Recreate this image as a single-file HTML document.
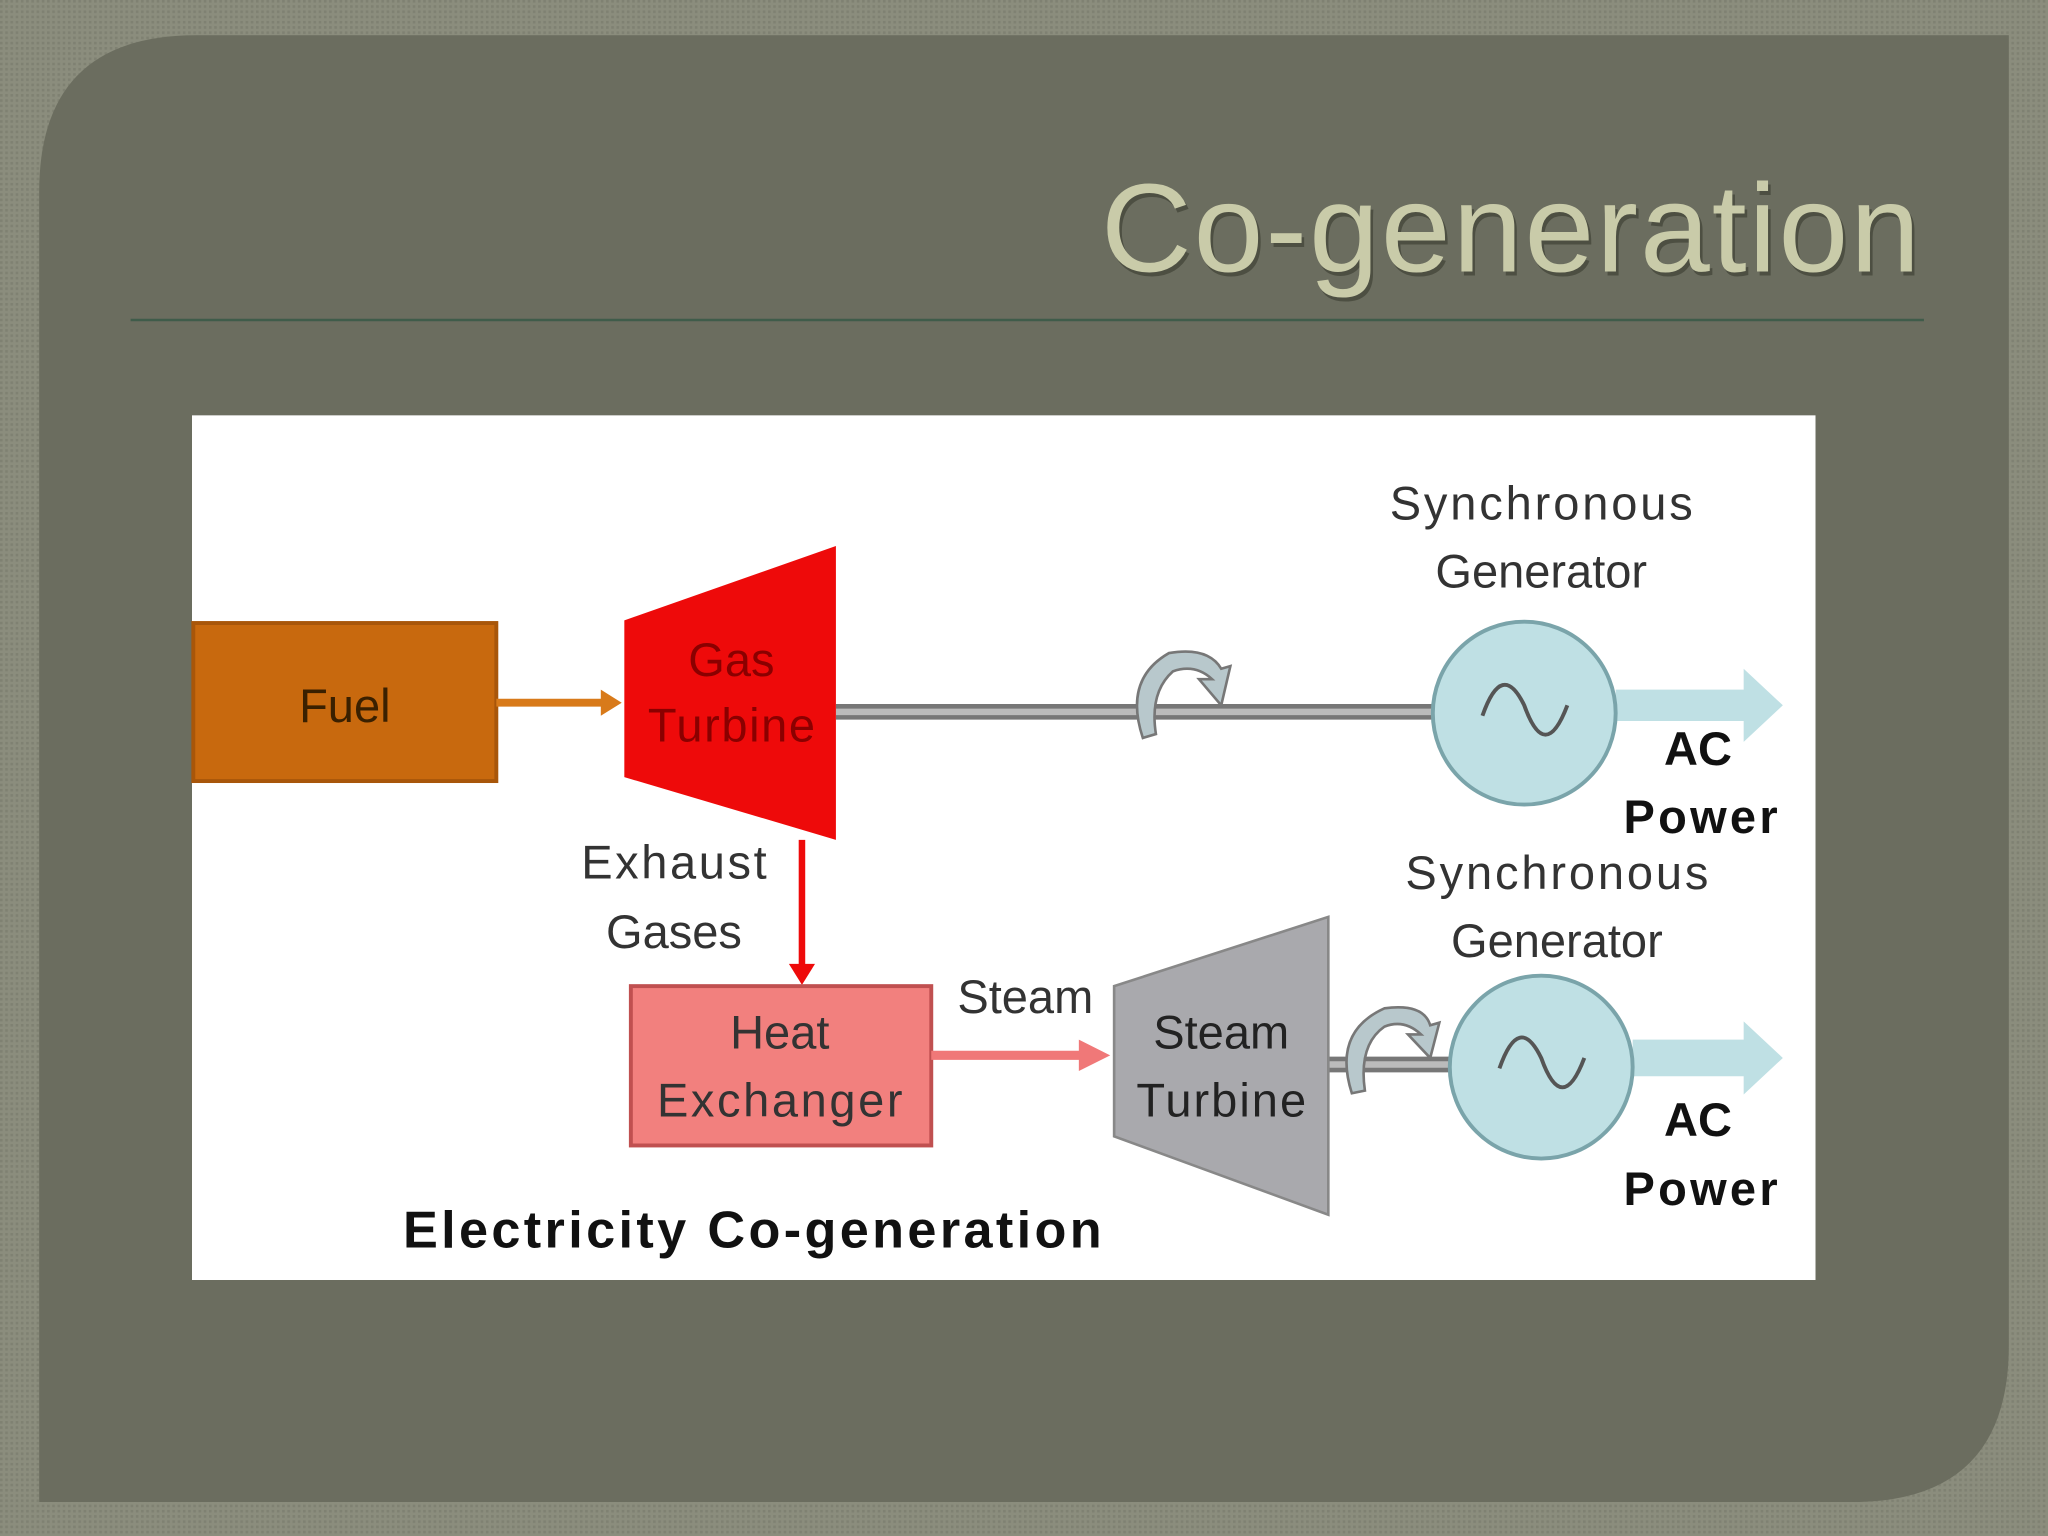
<!DOCTYPE html>
<html><head><style>html,body{margin:0;padding:0;background:#8a8c7c;}svg{display:block}</style></head>
<body>
<svg width="2048" height="1536" viewBox="0 0 1568 1176" xmlns="http://www.w3.org/2000/svg" font-family="Liberation Sans, sans-serif">
<defs>
<pattern id="pt" width="4" height="4" patternUnits="userSpaceOnUse"><rect width="4" height="4" fill="#8b8d7d"/><rect width="2" height="2" fill="#7f8172"/></pattern>
</defs>
<rect width="1568" height="1176" fill="url(#pt)"/>
<path d="M150,27 H1538 V1030 Q1538,1150 1418,1150 H30 V147 Q30,27 150,27z" fill="#6b6d5f"/>
<text x="843" y="208" font-size="96" fill="#3a3c30" opacity="0.6" dx="2" dy="3" textLength="627">Co-generation</text>
<text x="843" y="208" font-size="96" fill="#c9cba9" textLength="627">Co-generation</text>
<line x1="100" y1="245" x2="1473" y2="245" stroke="#3f5c4a" stroke-width="2"/>
<rect x="147" y="318" width="1243" height="662" fill="#fff"/>
<g font-size="36" fill="#333" text-anchor="middle" dominant-baseline="central">
<rect x="148" y="477" width="232" height="121" fill="#c8690e" stroke="#a8560a" stroke-width="3"/>
<text x="264" y="540" fill="#3a2000">Fuel</text>
<line x1="380" y1="538" x2="462" y2="538" stroke="#d87a1a" stroke-width="6"/>
<path d="M460,528 L476,538 L460,548z" fill="#d87a1a"/>
<line x1="640" y1="545" x2="1097" y2="545" stroke="#777" stroke-width="12"/>
<line x1="640" y1="545" x2="1097" y2="545" stroke="#bbb" stroke-width="5"/>
<path d="M478,475 L640,418 L640,643 L478,595z" fill="#ee0a0a"/>
<text x="560" y="505" fill="#8a0000">Gas</text>
<text x="560" y="555" fill="#8a0000" textLength="128">Turbine</text>
<path d="M875,565 Q860,520 895,500 Q925,495 935,512 L942,510 L935,540 L918,520 L928,520 Q915,508 898,514 Q880,530 885,562z" fill="#b8c8cc" stroke="#777" stroke-width="2"/>
<path d="M1237,528 H1335 V512 L1365,540 L1335,568 V552 H1237z" fill="#bfe0e4"/>
<circle cx="1167" cy="546" r="70" fill="#bfe0e4" stroke="#7aa4aa" stroke-width="3"/>
<path d="M1135,548 Q1150,505 1167,540 Q1183,585 1200,540" fill="none" stroke="#555" stroke-width="3"/>
<text x="1180" y="385" textLength="232">Synchronous</text>
<text x="1180" y="437">Generator</text>
<text x="1300" y="573" font-weight="bold" fill="#111">AC</text>
<text x="1302" y="625" font-weight="bold" fill="#111" textLength="118">Power</text>
<line x1="614" y1="643" x2="614" y2="740" stroke="#ee0a0a" stroke-width="5"/>
<path d="M604,738 L614,754 L624,738z" fill="#ee0a0a"/>
<text x="516" y="660" textLength="142">Exhaust</text>
<text x="516" y="713">Gases</text>
<rect x="483" y="755" width="230" height="122" fill="#f2807e" stroke="#c05050" stroke-width="3"/>
<text x="597" y="790">Heat</text>
<text x="597" y="842" textLength="188">Exchanger</text>
<line x1="713" y1="808" x2="830" y2="808" stroke="#f07878" stroke-width="7"/>
<path d="M826,796 L850,808 L826,820z" fill="#f07878"/>
<text x="785" y="763">Steam</text>
<line x1="1017" y1="815" x2="1112" y2="815" stroke="#777" stroke-width="12"/>
<line x1="1017" y1="815" x2="1112" y2="815" stroke="#bbb" stroke-width="5"/>
<path d="M853,755 L1017,702 L1017,930 L853,870z" fill="#a9a9ad" stroke="#888" stroke-width="2"/>
<text x="935" y="790" fill="#222">Steam</text>
<text x="935" y="842" fill="#222" textLength="130">Turbine</text>
<path d="M1035,837 Q1020,790 1060,772 Q1090,768 1095,785 L1102,783 L1095,810 L1078,792 L1088,792 Q1075,780 1060,786 Q1040,800 1045,835z" fill="#b8c8cc" stroke="#777" stroke-width="2"/>
<path d="M1250,796 H1335 V782 L1365,810 L1335,838 V824 H1250z" fill="#bfe0e4"/>
<circle cx="1180" cy="817" r="70" fill="#bfe0e4" stroke="#7aa4aa" stroke-width="3"/>
<path d="M1148,818 Q1163,775 1180,810 Q1196,855 1213,810" fill="none" stroke="#555" stroke-width="3"/>
<text x="1192" y="668" textLength="232">Synchronous</text>
<text x="1192" y="720">Generator</text>
<text x="1300" y="857" font-weight="bold" fill="#111">AC</text>
<text x="1302" y="910" font-weight="bold" fill="#111" textLength="118">Power</text>
<text x="576" y="942" font-size="40" font-weight="bold" fill="#111" textLength="535">Electricity Co-generation</text>
</g>
</svg>
</body></html>
